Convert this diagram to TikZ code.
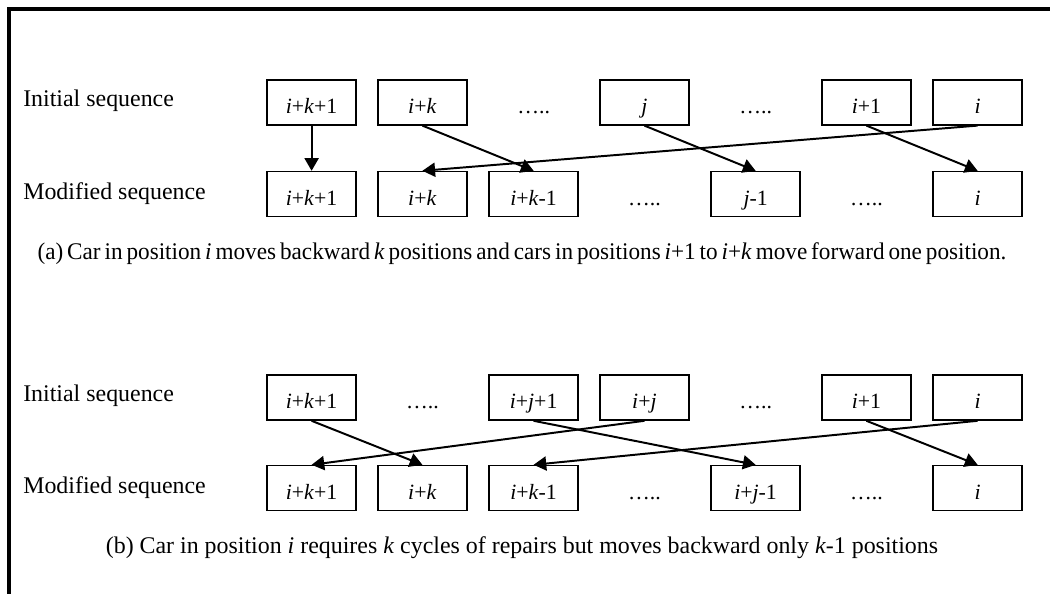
\documentclass[tikz,border=0pt]{standalone}
\usepackage{fontspec}
\setmainfont{Liberation Serif}
\usetikzlibrary{arrows.meta}

\begin{document}
\begin{tikzpicture}[
  car/.style={draw, line width=1pt, minimum width=2.225cm, minimum height=1.125cm,
    inner sep=0pt, text height=16pt, text depth=0pt, font=\fontsize{15.5}{18}\selectfont},
  gap/.style={inner sep=0pt, text height=16pt, text depth=0pt, font=\fontsize{15.5}{18}\selectfont},
  seq/.style={anchor=west, inner sep=0pt, font=\fontsize{17}{20}\selectfont},
  capline/.style={inner sep=0pt, font=\fontsize{17}{20}\selectfont},
  mv/.style={-{Triangle[length=9pt,width=10pt]}, line width=1.4pt},
]
\useasboundingbox (0,0) rectangle (26.25,-14.85);

%% Frame
\draw[line width=2.2pt] (0.225,-14.85) -- (0.225,-0.225) -- (26.25,-0.225);

%% (a) Initial sequence
\node[seq] (LIA) at (0.575,-2.53) {Initial sequence};
\node[car] (IA0) at (7.79,-2.56)  {\textit{i}+\textit{k}+1};
\node[car] (IA1) at (10.56,-2.56) {\textit{i}+\textit{k}};
\node[gap] (IA2) at (13.34,-2.56) {…..};
\node[car] (IA3) at (16.11,-2.56) {\textit{j}};
\node[gap] (IA4) at (18.89,-2.56) {…..};
\node[car] (IA5) at (21.66,-2.56) {\textit{i}+1};
\node[car] (IA6) at (24.44,-2.56) {\textit{i}};

%% (a) Modified sequence
\node[seq] (LMA) at (0.575,-4.85) {Modified sequence};
\node[car] (MA0) at (7.79,-4.85)  {\textit{i}+\textit{k}+1};
\node[car] (MA1) at (10.56,-4.85) {\textit{i}+\textit{k}};
\node[car] (MA2) at (13.34,-4.85) {\textit{i}+\textit{k}-1};
\node[gap] (MA3) at (16.11,-4.85) {…..};
\node[car] (MA4) at (18.89,-4.85) {\textit{j}-1};
\node[gap] (MA5) at (21.66,-4.85) {…..};
\node[car] (MA6) at (24.44,-4.85) {\textit{i}};

%% (a) Moves
\draw[mv] (IA0.south) -- (MA0.north);
\draw[mv] (IA1.south) -- (MA2.north);
\draw[mv] (IA3.south) -- (MA4.north);
\draw[mv] (IA5.south) -- (MA6.north);
\draw[mv] (IA6.south) -- (MA1.north);

\node[capline] (CA) at (13.05,-6.33) {\scalebox{0.97}[1]{\spaceskip=.17em (a) Car in position \textit{i} moves backward \textit{k} positions and cars in positions \textit{i}+1 to \textit{i}+\textit{k} move forward one position.}};

%% (b) Initial sequence
\node[seq] (LIB) at (0.575,-9.9) {Initial sequence};
\node[car] (IB0) at (7.79,-9.94)  {\textit{i}+\textit{k}+1};
\node[gap] (IB1) at (10.56,-9.94) {…..};
\node[car] (IB2) at (13.34,-9.94) {\textit{i}+\textit{j}+1};
\node[car] (IB3) at (16.11,-9.94) {\textit{i}+\textit{j}};
\node[gap] (IB4) at (18.89,-9.94) {…..};
\node[car] (IB5) at (21.66,-9.94) {\textit{i}+1};
\node[car] (IB6) at (24.44,-9.94) {\textit{i}};

%% (b) Modified sequence
\node[seq] (LMB) at (0.575,-12.2) {Modified sequence};
\node[car] (MB0) at (7.79,-12.2)  {\textit{i}+\textit{k}+1};
\node[car] (MB1) at (10.56,-12.2) {\textit{i}+\textit{k}};
\node[car] (MB2) at (13.34,-12.2) {\textit{i}+\textit{k}-1};
\node[gap] (MB3) at (16.11,-12.2) {…..};
\node[car] (MB4) at (18.89,-12.2) {\textit{i}+\textit{j}-1};
\node[gap] (MB5) at (21.66,-12.2) {…..};
\node[car] (MB6) at (24.44,-12.2) {\textit{i}};

%% (b) Moves
\draw[mv] (IB0.south) -- (MB1.north);
\draw[mv] (IB2.south) -- (MB4.north);
\draw[mv] (IB3.south) -- (MB0.north);
\draw[mv] (IB5.south) -- (MB6.north);
\draw[mv] (IB6.south) -- (MB2.north);

\node[capline] (CB) at (13.05,-13.7) {(b) Car in position \textit{i} requires \textit{k} cycles of repairs but moves backward only \textit{k}-1 positions};

\end{tikzpicture}
\end{document}
